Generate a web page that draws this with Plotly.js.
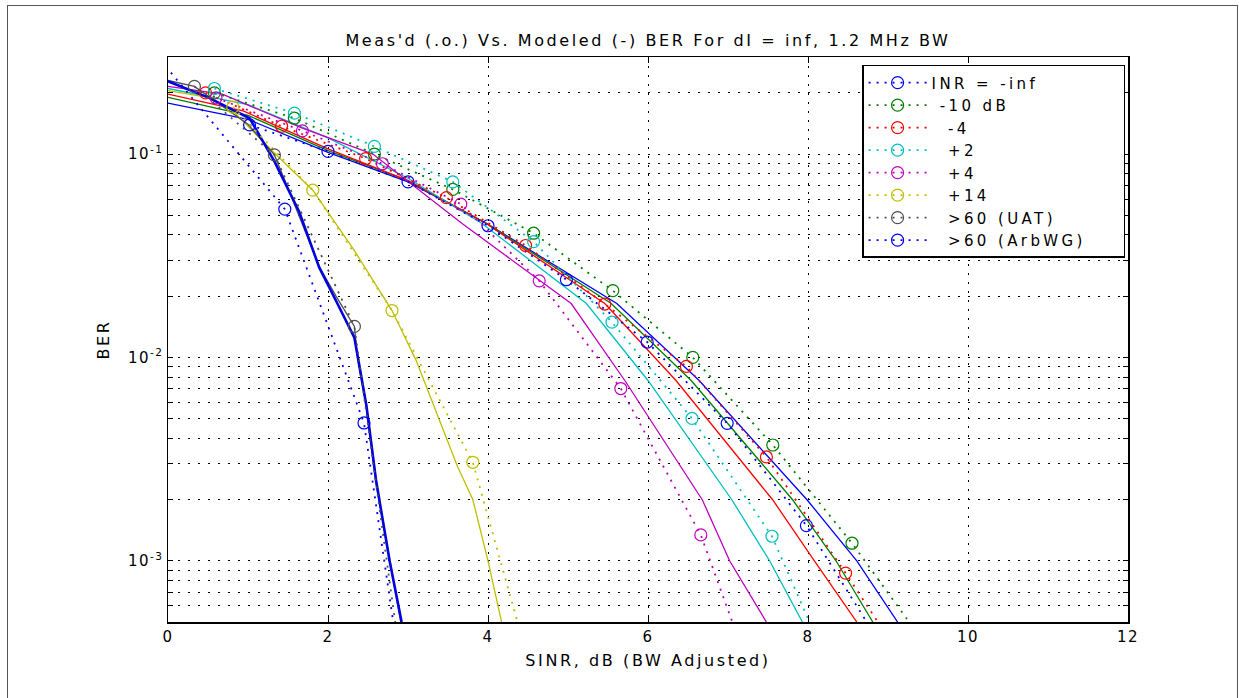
<!DOCTYPE html>
<html>
<head>
<meta charset="utf-8">
<script src="https://cdn.plot.ly/plotly-3.0.1.min.js"></script>
<style>
html,body{margin:0;padding:0;background:#fff;}
#wrap{position:relative;width:1239px;height:698px;}
#frame{position:absolute;left:7px;top:5px;width:1229px;height:700px;border:1px solid #555;pointer-events:none;}
#chart{width:1239px;height:698px;}
.gtitle{letter-spacing:2.6px;}
.xtitle,.ytitle{letter-spacing:2.6px;}
.legendtext{letter-spacing:3.4px;}
.xtick text,.ytick text{letter-spacing:1.5px;}
</style>
</head>
<body>
<div id="wrap"><div id="chart"></div><div id="frame"></div></div>
<script>
// ---- Data ----
const seriesNames = ['INR = -inf', '\u00a0-10 dB', '\u00a0\u00a0-4', '\u00a0\u00a0+2',
  '\u00a0\u00a0+4', '\u00a0\u00a0+14', '\u00a0\u00a0>60 (UAT)', '\u00a0\u00a0>60 (ArbWG)\u00a0\u00a0\u00a0\u00a0'];

// measured (dotted with circles)
const measX_inf = [1.02, 2.0, 3.0, 4.0, 4.98, 5.99, 6.99, 7.98, 8.98];
const measY_inf = [0.139, 0.103, 0.073, 0.0444, 0.0241, 0.0119, 0.00474, 0.00149, 0.00035];
const measX_m10 = [0.58, 1.58, 2.58, 3.56, 4.57, 5.56, 6.56, 7.56, 8.55, 9.55];
const measY_m10 = [0.2, 0.15, 0.1, 0.067, 0.0408, 0.0213, 0.0100, 0.00371, 0.00122, 0.00035];
const measX_m4 = [0.47, 1.42, 2.47, 3.48, 4.47, 5.46, 6.48, 7.48, 8.47, 9.47];
const measY_m4 = [0.2, 0.137, 0.095, 0.061, 0.0355, 0.0183, 0.00903, 0.00324, 0.00087, 0.00022];
const measX_p2 = [0.58, 1.58, 2.58, 3.56, 4.57, 5.55, 6.55, 7.55, 8.55];
const measY_p2 = [0.21, 0.159, 0.109, 0.073, 0.0371, 0.0149, 0.00501, 0.00132, 0.000166];
const measX_p4 = [0.6, 1.68, 2.68, 3.66, 4.64, 5.66, 6.66, 7.66];
const measY_p4 = [0.189, 0.13, 0.0896, 0.0567, 0.0238, 0.00703, 0.00134, 0.00011];
const measX_p14 = [0.81, 1.81, 2.8, 3.81, 4.81];
const measY_p14 = [0.17, 0.0664, 0.017, 0.00305, 0.00012];
const measX_uat = [0.33, 1.33, 2.33, 3.33];
const measY_uat = [0.215, 0.099, 0.0142, 0.00002];
const measX_arb = [-0.54, 1.46, 2.45, 3.45];
const measY_arb = [0.47, 0.0536, 0.00476, 0.00001];

// modeled (solid)
const modX_inf = [0, 1, 2, 3, 3.99, 5.61, 6.64, 7.99, 8.61, 9.12];
const modY_inf = [0.178, 0.148, 0.102, 0.073, 0.0454, 0.0184, 0.0077, 0.00199, 0.001, 0.0005];
const modX_m10 = [0, 1, 2, 3, 3.99, 5.54, 6.54, 7.81, 8.35, 8.81];
const modY_m10 = [0.19, 0.155, 0.104, 0.074, 0.0454, 0.0184, 0.0077, 0.00199, 0.001, 0.0005];
const modX_m4 = [0, 0.94, 2, 3, 3.98, 5.46, 6.35, 7.56, 8.08, 8.61];
const modY_m4 = [0.197, 0.163, 0.106, 0.074, 0.0454, 0.0184, 0.0077, 0.00199, 0.001, 0.0005];
const modX_p2 = [0, 1, 2, 3, 3.93, 5.23, 6.0, 7.05, 7.52, 7.93];
const modY_p2 = [0.21, 0.175, 0.12, 0.076, 0.0454, 0.0184, 0.0077, 0.00199, 0.001, 0.0005];
const modX_p4 = [0, 0.68, 1.68, 2.56, 3.68, 5.04, 5.71, 6.68, 7.02, 7.48];
const modY_p4 = [0.215, 0.197, 0.134, 0.1, 0.0454, 0.0184, 0.0077, 0.00199, 0.001, 0.0005];
const modX_p14 = [0, 0.5, 0.81, 1.31, 1.81, 2.33, 2.8, 3.1, 3.62, 3.81, 4.0, 4.17];
const modY_p14 = [0.205, 0.19, 0.163, 0.103, 0.0664, 0.0335, 0.017, 0.0097, 0.0029, 0.002, 0.001, 0.0005];
const modX_uat = [0, 0.33, 1.0, 1.33, 1.48, 1.64, 1.89, 2.1, 2.33, 2.37, 2.48, 2.6, 2.77, 2.91];
const modY_uat = [0.23, 0.215, 0.14, 0.099, 0.071, 0.049, 0.028, 0.02, 0.0142, 0.0099, 0.0057, 0.0024, 0.001, 0.0005];
const modX_arb = [0, 0.5, 1.02, 1.33, 1.64, 1.89, 2.1, 2.33, 2.48, 2.6, 2.77, 2.92];
const modY_arb = [0.228, 0.19, 0.15, 0.092, 0.052, 0.0277, 0.019, 0.0125, 0.0058, 0.0025, 0.001, 0.0005];

const yTickVals = [5e-4,6e-4,7e-4,8e-4,9e-4,1e-3,2e-3,3e-3,4e-3,5e-3,6e-3,7e-3,8e-3,9e-3,
  1e-2,2e-2,3e-2,4e-2,5e-2,6e-2,7e-2,8e-2,9e-2,1e-1,2e-1,3e-1];
const yTickText = yTickVals.map(v => v===1e-3 ? '10<sup>-3</sup>' : v===1e-2 ? '10<sup>-2</sup>' : v===1e-1 ? '10<sup>-1</sup>' : '');

// ---- styles ----
const colors = ['#0000FF', '#008000', '#FF0000', '#00BFBF', '#BF00BF', '#BFBF00', '#505050', '#0000FF'];
const meas = [[measX_inf,measY_inf],[measX_m10,measY_m10],[measX_m4,measY_m4],[measX_p2,measY_p2],
  [measX_p4,measY_p4],[measX_p14,measY_p14],[measX_uat,measY_uat],[measX_arb,measY_arb]];
const mods = [[modX_inf,modY_inf],[modX_m10,modY_m10],[modX_m4,modY_m4],[modX_p2,modY_p2],
  [modX_p4,modY_p4],[modX_p14,modY_p14],[modX_uat,modY_uat],[modX_arb,modY_arb]];

const traces = [];
mods.forEach((m, i) => {
  traces.push({x: m[0], y: m[1], type: 'scatter', mode: 'lines', showlegend: false,
    line: {color: i===7 ? '#0000E0' : colors[i], width: i===7 ? 2.6 : 1.3}, hoverinfo: 'skip'});
});
meas.forEach((m, i) => {
  traces.push({x: m[0], y: m[1], type: 'scatter', mode: 'lines+markers', name: seriesNames[i],
    line: {color: colors[i], width: 1.8, dash: '2px,6px'},
    marker: {symbol: 'circle-open', size: 12, color: colors[i], line: {width: 1.2, color: colors[i]}}});
});

const layout = {
  width: 1239, height: 698,
  margin: {l: 168, r: 111, t: 57, b: 76},
  paper_bgcolor: '#fff', plot_bgcolor: '#fff',
  font: {family: 'DejaVu Sans, Liberation Sans, sans-serif', color: '#000', size: 15},
  title: {text: "Meas'd (.o.) Vs. Modeled (-) BER For dI = inf, 1.2 MHz BW",
    x: 0.5, xref: 'paper', xanchor: 'center', y: 0.95, yref: 'container', font: {size: 16}},
  xaxis: {range: [0, 12], dtick: 2, tick0: 0, showgrid: true, gridcolor: '#000', griddash: '2px,7px', gridwidth: 1,
    zeroline: false, showline: true, linecolor: '#000', linewidth: 1.5, mirror: 'ticks',
    ticks: 'inside', ticklen: 6, tickcolor: '#000', tickfont: {size: 15},
    title: {text: 'SINR, dB (BW Adjusted)', font: {size: 16}, standoff: 10}},
  yaxis: {type: 'log', range: [Math.log10(5e-4), Math.log10(0.3)], tickmode: 'array',
    tickvals: yTickVals, ticktext: yTickText,
    showgrid: true, gridcolor: '#000', griddash: '2px,8px', gridwidth: 1,
    zeroline: false, showline: true, linecolor: '#000', linewidth: 1.5, mirror: 'ticks',
    ticks: 'inside', ticklen: 5, tickcolor: '#000', tickfont: {size: 15},
    title: {text: 'BER', font: {size: 16}, standoff: 14}},
  legend: {x: 0.723, y: 0.986, xanchor: 'left', yanchor: 'top', bgcolor: '#fff',
    bordercolor: '#000', borderwidth: 1.5, font: {size: 15}, tracegroupgap: 0,
    itemwidth: 58},
  showlegend: true
};

Plotly.newPlot('chart', traces, layout, {displayModeBar: false, staticPlot: true});
</script>
</body>
</html>
